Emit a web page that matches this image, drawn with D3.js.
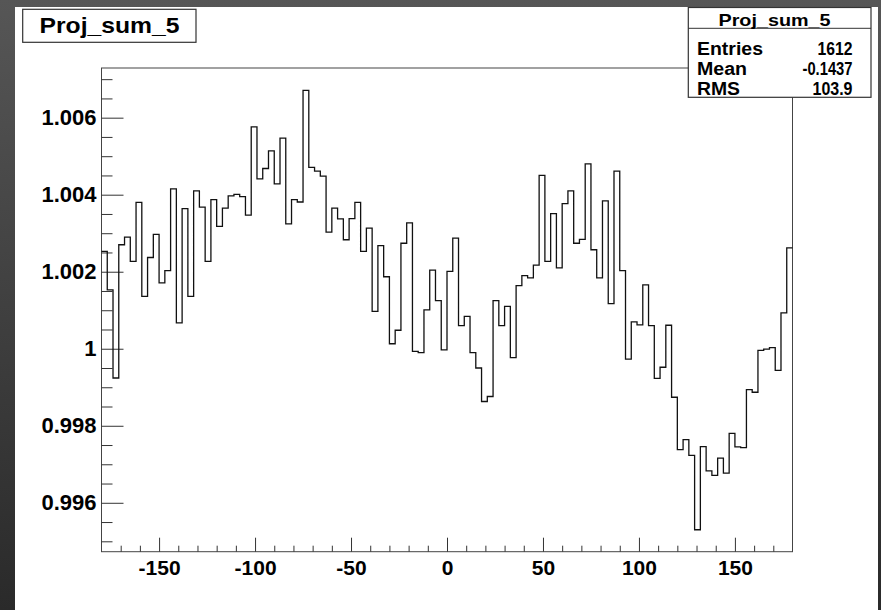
<!DOCTYPE html>
<html><head><meta charset="utf-8">
<script src="https://cdn.jsdelivr.net/npm/d3@7"></script>
<style>
body{margin:0;background:#3a3a3a;overflow:hidden;}
svg{display:block;}
text{font-family:"Liberation Sans",Arial,Helvetica,sans-serif;font-weight:bold;fill:#000;}
</style>
</head><body><script>
// ---- data ----
const histTitle = "Proj_sum_5";
const statLabels = ["Entries", "Mean", "RMS"];
const statValues = ["1612", "-0.1437", "103.9"];
const xDomain = [-180, 180];
const yDomain = [0.99473, 1.00729];
const binWidth = 3;
const xMajorTicks = [-150, -100, -50, 0, 50, 100, 150];
const xTickLabels = ["-150", "-100", "-50", "0", "50", "100", "150"];
const yMajorTicks = [0.996, 0.998, 1.000, 1.002, 1.004, 1.006];
const yTickLabels = ["0.996", "0.998", "1", "1.002", "1.004", "1.006"];
const binValues = [
  1.00253, 1.00153, 0.99924, 1.00270, 1.00290, 1.00227, 1.00380, 1.00136, 1.00237, 1.00297,
  1.00171, 1.00203, 1.00415, 1.00067, 1.00364, 1.00136, 1.00410, 1.00368, 1.00227, 1.00387,
  1.00318, 1.00365, 1.00397, 1.00401, 1.00395, 1.00347, 1.00576, 1.00441, 1.00468, 1.00514,
  1.00428, 1.00547, 1.00324, 1.00387, 1.00381, 1.00671, 1.00471, 1.00461, 1.00448, 1.00303,
  1.00365, 1.00337, 1.00283, 1.00338, 1.00380, 1.00253, 1.00313, 1.00097, 1.00268, 1.00187,
  1.00013, 1.00048, 1.00274, 1.00327, 0.99993, 0.99990, 1.00101, 1.00204, 1.00125, 0.99997,
  1.00201, 1.00287, 1.00060, 1.00084, 0.99990, 0.99950, 0.99863, 0.99876, 1.00125, 1.00060,
  1.00110, 0.99977, 1.00164, 1.00190, 1.00184, 1.00217, 1.00450, 1.00227, 1.00351, 1.00210,
  1.00377, 1.00410, 1.00274, 1.00284, 1.00480, 1.00257, 1.00184, 1.00384, 1.00117, 1.00461,
  1.00203, 0.99973, 1.00070, 1.00062, 1.00166, 1.00060, 0.99923, 0.99952, 1.00061, 0.99874,
  0.99738, 0.99764, 0.99723, 0.99530, 0.99746, 0.99683, 0.99671, 0.99716, 0.99677, 0.99780,
  0.99745, 0.99743, 0.99894, 0.99887, 0.99996, 0.99999, 1.00003, 0.99944, 1.00093, 1.00262
];

// ---- layout ----
const W = 881, H = 610;
const plot = {left: 101.5, right: 792.5, top: 68, bottom: 551.7};

const svg = d3.select("body").append("svg").attr("width", W).attr("height", H);

const defs = svg.append("defs");
const grad = defs.append("linearGradient").attr("id", "bg").attr("x1", 0).attr("y1", 0).attr("x2", 0).attr("y2", 1);
grad.append("stop").attr("offset", "0%").attr("stop-color", "#565656");
grad.append("stop").attr("offset", "50%").attr("stop-color", "#404040");
grad.append("stop").attr("offset", "100%").attr("stop-color", "#2a2a2a");
svg.append("rect").attr("width", W).attr("height", H).attr("fill", "url(#bg)");
svg.append("rect").attr("x", 15).attr("y", 7).attr("width", 863).attr("height", H - 7).attr("fill", "#fff");

const x = d3.scaleLinear().domain(xDomain).range([plot.left, plot.right]);
const y = d3.scaleLinear().domain(yDomain).range([plot.bottom, plot.top]);

// frame
svg.append("rect").attr("x", plot.left).attr("y", plot.top)
  .attr("width", plot.right - plot.left).attr("height", plot.bottom - plot.top)
  .attr("fill", "none").attr("stroke", "#444").attr("stroke-width", 1);

// minor ticks
const xMinorTicks = d3.range(xDomain[0] + 10, xDomain[1], 10).filter(v => v % 50 !== 0);
const yMinorTicks = d3.range(0.9950, 1.00725, 0.0005).filter(v => !yMajorTicks.some(t => Math.abs(t - v) < 1e-7));

function styleAxis(g) {
  g.select(".domain").remove();
  g.selectAll(".tick line").attr("stroke", "#333").attr("stroke-width", 1);
}

svg.append("g").attr("transform", `translate(0,${plot.bottom})`)
  .call(d3.axisBottom(x).tickValues(xMinorTicks).tickSize(-6).tickFormat(""))
  .call(styleAxis);
const gx = svg.append("g").attr("transform", `translate(0,${plot.bottom})`)
  .call(d3.axisBottom(x).tickValues(xMajorTicks).tickSize(-14).tickPadding(8.5)
    .tickFormat((d, i) => xTickLabels[i]))
  .call(styleAxis);
gx.selectAll("text").attr("font-size", 21).attr("font-family", null).attr("fill", "#000");

svg.append("g").attr("transform", `translate(${plot.left},0)`)
  .call(d3.axisLeft(y).tickValues(yMinorTicks).tickSize(-11).tickFormat(""))
  .call(styleAxis);
const gy = svg.append("g").attr("transform", `translate(${plot.left},0)`)
  .call(d3.axisLeft(y).tickValues(yMajorTicks).tickSize(-22).tickPadding(5)
    .tickFormat((d, i) => yTickLabels[i]))
  .call(styleAxis);
gy.selectAll("text").attr("font-size", 22).attr("font-family", null).attr("fill", "#000");

// histogram outline
const pts = binValues.map((v, i) => [xDomain[0] + i * binWidth, v]);
pts.push([xDomain[0] + binValues.length * binWidth, binValues[binValues.length - 1]]);
svg.append("path")
  .attr("d", d3.line().x(d => x(d[0])).y(d => y(d[1])).curve(d3.curveStepAfter)(pts))
  .attr("fill", "none").attr("stroke", "#111").attr("stroke-width", 1.3);

// title box
svg.append("rect").attr("x", 22.7).attr("y", 9.3).attr("width", 173.3).attr("height", 33)
  .attr("fill", "#fff").attr("stroke", "#333").attr("stroke-width", 1.2);
svg.append("text").attr("x", 109.5).attr("y", 32.5).attr("text-anchor", "middle")
  .attr("font-size", 22).attr("textLength", 140).attr("lengthAdjust", "spacingAndGlyphs")
  .text(histTitle);

// stats box
const sb = {x: 688.3, y: 7.5, w: 182.7, h: 89.8};
svg.append("rect").attr("x", sb.x).attr("y", sb.y).attr("width", sb.w).attr("height", sb.h)
  .attr("fill", "#fff").attr("stroke", "#333").attr("stroke-width", 1.2);
svg.append("line").attr("x1", sb.x).attr("x2", sb.x + sb.w).attr("y1", 28.3).attr("y2", 28.3)
  .attr("stroke", "#333").attr("stroke-width", 1);
svg.append("text").attr("x", 774.5).attr("y", 26).attr("text-anchor", "middle")
  .attr("font-size", 17).attr("textLength", 112).attr("lengthAdjust", "spacingAndGlyphs")
  .text(histTitle);
const labelLens = [66, 50, 43];
const valueLens = [35, 50, 40];
statLabels.forEach((s, i) => {
  svg.append("text").attr("x", 697).attr("y", 54.5 + i * 20).attr("font-size", 18)
    .attr("textLength", labelLens[i]).attr("lengthAdjust", "spacingAndGlyphs").text(s);
  svg.append("text").attr("x", 852.5).attr("y", 54.5 + i * 20).attr("font-size", 18)
    .attr("text-anchor", "end").attr("textLength", valueLens[i]).attr("lengthAdjust", "spacingAndGlyphs")
    .text(statValues[i]);
});
</script></body></html>
